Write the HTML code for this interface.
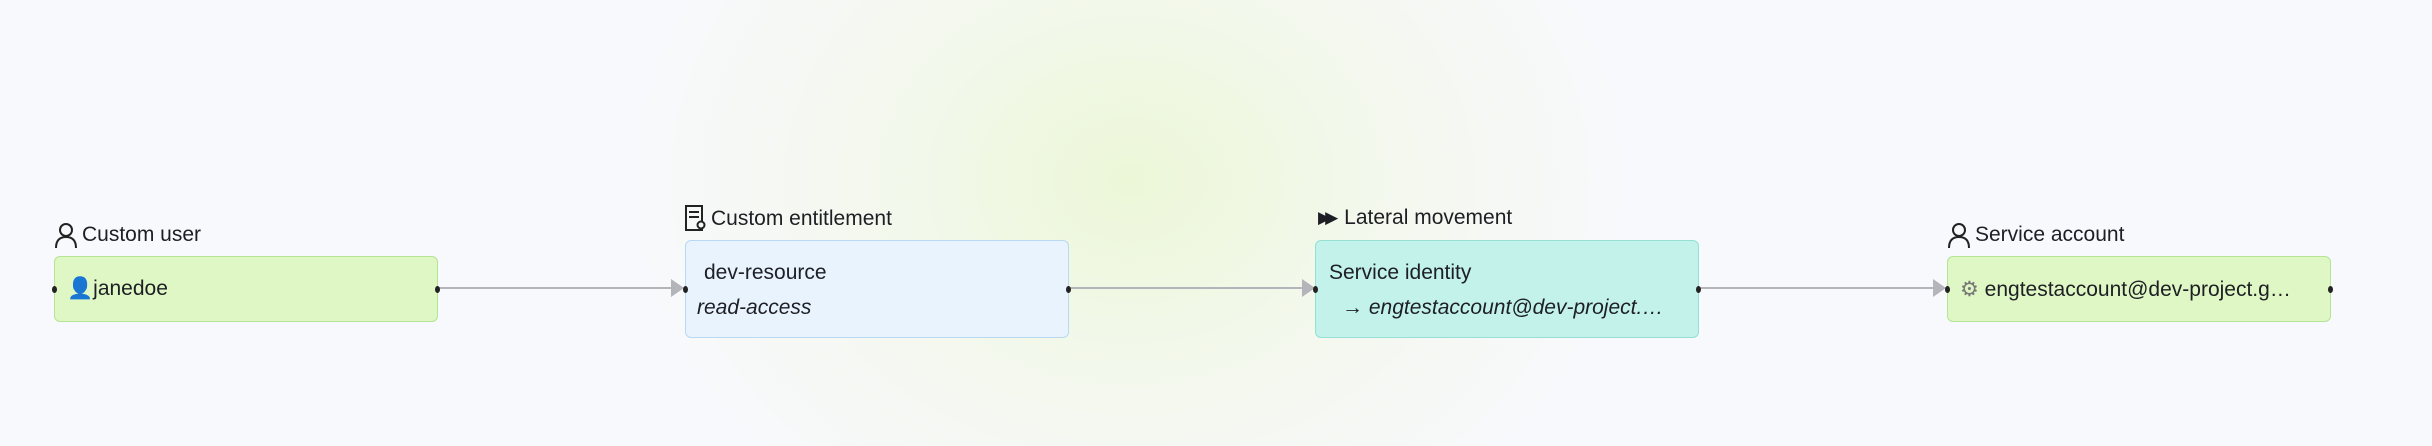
<!DOCTYPE html>
<html><head><meta charset="utf-8"><style>
*{margin:0;padding:0;box-sizing:border-box}
body{width:2432px;height:446px;overflow:hidden;font-family:"Liberation Sans",sans-serif;color:#1d1f24;
background:radial-gradient(ellipse 520px 420px at 1130px 180px,#ecf7d8 0%,#f3f8ec 45%,rgba(248,249,253,0) 100%),#f8f9fd;position:relative}
.n{position:absolute;border-radius:6px;font-size:21px}
.g{background:#dff7c4;border:1.5px solid #b4e494}
.b{background:#e8f3fd;border:1.5px solid #b7d9f4}
.t{background:#c2f2ea;border:1.5px solid #93e0d4}
.lbl{position:absolute;font-size:21px;display:flex;align-items:center;gap:4px}
.dot{position:absolute;width:5px;height:7px;background:#222;border-radius:50%;top:50%;margin-top:-3px}
.txt{position:absolute;white-space:nowrap}
</style></head><body>
<svg width="2432" height="446" style="position:absolute;left:0;top:0">
<g stroke="#b3b5ba" stroke-width="2"><line x1="437" y1="288" x2="672" y2="288"/><line x1="1068" y1="288" x2="1303" y2="288"/><line x1="1698" y1="288" x2="1935" y2="288"/></g>
<g fill="#b3b5ba"><polygon points="671,279 684,288 671,297"/><polygon points="1302,279 1315,288 1302,297"/><polygon points="1933,279 1946,288 1933,297"/></g>
</svg>

<div class="lbl" style="left:54px;top:222px"><svg width="24" height="26" viewBox="0 0 24 26"><circle cx="12" cy="8" r="6" fill="none" stroke="#222" stroke-width="2"/><path d="M2 26 Q2 15 12 15 Q22 15 22 26" fill="none" stroke="#222" stroke-width="2"/></svg>Custom user</div>
<div class="n g" style="left:54px;top:256px;width:384px;height:66px">
<div class="dot" style="left:-3px"></div><div class="dot" style="right:-3px"></div>
<div class="txt" style="left:12px;top:20px"><span style="color:#6c8da6">👤</span>janedoe</div></div>

<div class="lbl" style="left:685px;top:205px"><svg width="22" height="28" viewBox="0 0 22 28"><rect x="1" y="1" width="16" height="24" fill="none" stroke="#222" stroke-width="2"/><line x1="4" y1="7" x2="14" y2="7" stroke="#222" stroke-width="2"/><line x1="4" y1="12" x2="14" y2="12" stroke="#222" stroke-width="2"/><circle cx="16" cy="20" r="3.5" fill="#f8f9fd" stroke="#222" stroke-width="2"/></svg>Custom entitlement</div>
<div class="n b" style="left:685px;top:240px;width:384px;height:98px">
<div class="dot" style="left:-3px"></div><div class="dot" style="right:-3px"></div>
<div class="txt" style="left:18px;top:20px">dev-resource</div>
<div class="txt" style="left:11px;top:55px;font-style:italic">read-access</div></div>

<div class="lbl" style="left:1318px;top:206px"><span style="font-size:17px;letter-spacing:-6px;margin-right:8px">▶▶</span>Lateral movement</div>
<div class="n t" style="left:1315px;top:240px;width:384px;height:98px">
<div class="dot" style="left:-3px"></div><div class="dot" style="right:-3px"></div>
<div class="txt" style="left:13px;top:20px">Service identity</div>
<div class="txt" style="left:26px;top:55px">→ <i>engtestaccount@dev-project.…</i></div></div>

<div class="lbl" style="left:1947px;top:222px"><svg width="24" height="26" viewBox="0 0 24 26"><circle cx="12" cy="8" r="6" fill="none" stroke="#222" stroke-width="2"/><path d="M2 26 Q2 15 12 15 Q22 15 22 26" fill="none" stroke="#222" stroke-width="2"/></svg>Service account</div>
<div class="n g" style="left:1947px;top:256px;width:384px;height:66px">
<div class="dot" style="left:-3px"></div><div class="dot" style="right:-3px"></div>
<div class="txt" style="left:12px;top:20px"><span style="color:#777">⚙</span> engtestaccount@dev-project.g…</div></div>
</body></html>
